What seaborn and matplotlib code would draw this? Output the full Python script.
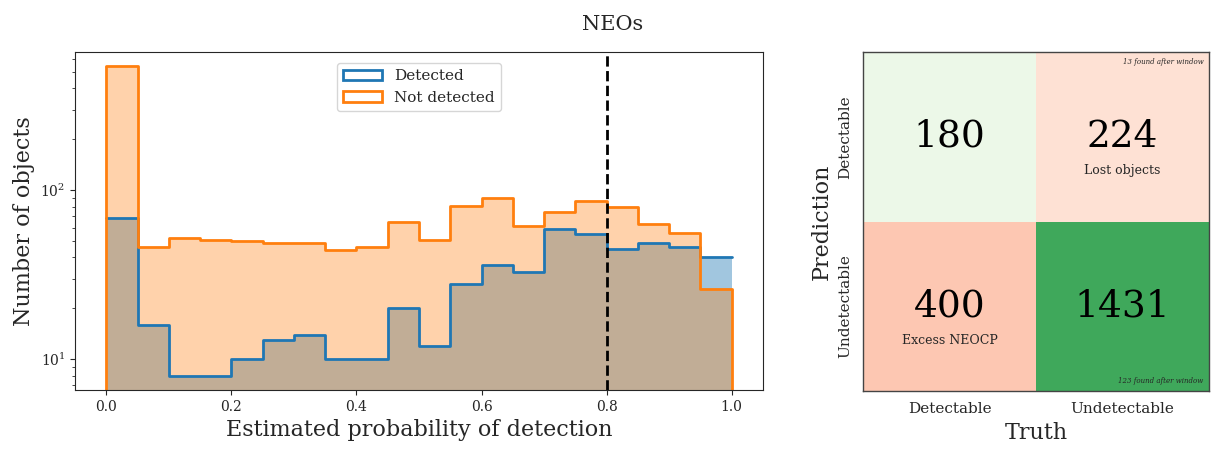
import numpy as np
import pandas as pd
import matplotlib
matplotlib.use("Agg")
import matplotlib.pyplot as plt
import seaborn as sns
from matplotlib.patches import Patch

# histogram counts per bin (20 bins of width 0.05 on [0, 1])
bin_edges = np.linspace(0, 1, 21)
detected = [68, 16, 8, 8, 10, 13, 14, 10, 10, 20,
            12, 28, 36, 33, 59, 55, 45, 49, 46, 40]
not_detected = [540, 46, 52, 51, 50, 49, 49, 44, 46, 65,
                51, 81, 90, 61, 74, 86, 79, 63, 56, 26]
threshold = 0.8

# confusion matrix (rows = prediction, cols = truth)
classes = ["Detectable", "Undetectable"]
conf = [[180, 224], [400, 1431]]
cell_notes = {(0, 1): "Lost objects", (1, 0): "Excess NEOCP"}
corner_notes = {(0, 1): "13 found after window", (1, 1): "123 found after window"}

sns.set_style("ticks")
plt.rcParams["font.family"] = ["DejaVu Serif"]

fig = plt.figure(figsize=(12.11, 4.49), dpi=100)
ax = fig.add_axes([0.062, 0.131, 0.568, 0.753])
ax2 = fig.add_axes([0.713, 0.129, 0.285, 0.755])

centers = (bin_edges[:-1] + bin_edges[1:]) / 2
hist_df = pd.DataFrame({
    "p": np.concatenate([centers, centers]),
    "n": detected + not_detected,
    "group": ["Detected"] * 20 + ["Not detected"] * 20,
})

blue, orange = "#1f77b4", "#ff7f0e"
ax.set_yscale("log")
hist_kw = dict(x="p", weights="n", binwidth=0.05, binrange=(0, 1),
               element="step", ax=ax)
for grp, col, a in [("Detected", blue, 0.42), ("Not detected", orange, 0.35)]:
    sub = hist_df[hist_df.group == grp]
    sns.histplot(data=sub, fill=True, color=col, alpha=a, linewidth=0, **hist_kw)
for grp, col in [("Detected", blue), ("Not detected", orange)]:
    sub = hist_df[hist_df.group == grp]
    sns.histplot(data=sub, fill=False, color=col, linewidth=2, **hist_kw)
# closing vertical edges down to the axis, as with stepfilled hists
ax.vlines([0, 1], 1e-3, [not_detected[0], not_detected[-1]], color=orange, lw=2)

ax.axvline(threshold, color="black", ls="--", lw=2)
ax.set_xlim(-0.05, 1.05)
ax.set_ylim(6.56, 656)
ax.set_xticks(np.arange(0, 1.01, 0.2))
ax.set_xticklabels([f"{t:.1f}" for t in np.arange(0, 1.01, 0.2)])
ax.tick_params(labelsize=10)
ax.set_xlabel("Estimated probability of detection", fontsize=16)
ax.set_ylabel("Number of objects", fontsize=16)
handles = [Patch(facecolor="white", edgecolor=blue, lw=2, label="Detected"),
           Patch(facecolor="white", edgecolor=orange, lw=2, label="Not detected")]
ax.legend(handles=handles, loc="upper center", fontsize=11, frameon=True,
          handlelength=2.5, bbox_to_anchor=(0.5, 0.99))

fig.text(0.506, 0.945, "NEOs", ha="center", va="center", fontsize=15)

# confusion matrix: diagonal in greens, off-diagonal in reds
conf_df = pd.DataFrame(conf, index=classes, columns=classes)
diag_mask = ~np.eye(2, dtype=bool)
sns.heatmap(conf_df, mask=diag_mask, cmap="Greens", vmin=0, vmax=2250,
            cbar=False, annot=True, fmt="d", annot_kws={"size": 27, "color": "black"},
            ax=ax2)
sns.heatmap(conf_df, mask=~diag_mask, cmap="Reds", vmin=0, vmax=1900,
            cbar=False, annot=True, fmt="d", annot_kws={"size": 27, "color": "black"},
            ax=ax2)
for (r, c), txt in cell_notes.items():
    ax2.text(c + 0.5, r + 0.7, txt, ha="center", va="center", fontsize=9)
for (r, c), txt in corner_notes.items():
    ypos = r + 0.06 if r == 0 else r + 0.94
    ax2.text(c + 0.97, ypos, txt, ha="right", va="center", fontsize=5,
             fontstyle="italic")
for sp in ax2.spines.values():
    sp.set_visible(True)
    sp.set_color("#444444")
    sp.set_linewidth(1)
ax2.tick_params(length=0, labelsize=11, pad=8)
ax2.set_yticklabels(classes, rotation=90, va="center")
ax2.set_xticklabels(classes, rotation=0)
ax2.set_xlabel("Truth", fontsize=16)
ax2.set_ylabel("Prediction", fontsize=16)

fig.savefig("out.png", dpi=100)
